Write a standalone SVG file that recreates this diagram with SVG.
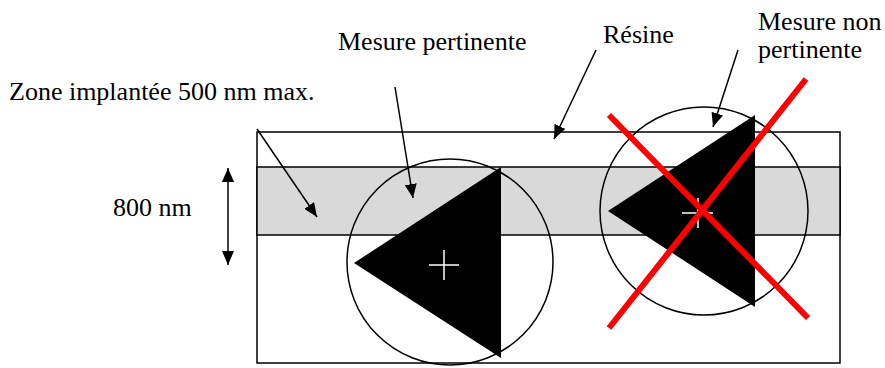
<svg xmlns="http://www.w3.org/2000/svg" width="885" height="368" viewBox="0 0 885 368">
<defs>
<style>
.t{font-family:"Liberation Serif","Times New Roman",serif;font-size:26px;fill:#000}
.c{fill:none;stroke:#000;stroke-width:1.5}
.a{stroke:#000;stroke-width:1.5;fill:none}
.w{stroke:#fff;stroke-width:1.5}
.r{stroke:#ff0000;stroke-width:6}
</style>
<marker id="ah2" viewBox="0 0 14 12" refX="14" refY="6" markerWidth="14" markerHeight="12" markerUnits="userSpaceOnUse" orient="auto-start-reverse">
<path d="M0,0 L14,6 L0,12 z" fill="#000"/>
</marker>
</defs>
<rect width="885" height="368" fill="#fff"/>
<g id="wafer">
<rect x="257" y="132" width="583" height="231" fill="#fff" stroke="#000" stroke-width="1.5"/>
<rect x="257" y="167" width="583" height="68" fill="#d9d9d9" stroke="#000" stroke-width="1.5"/>
</g>
<g id="mesure-pertinente">
<circle class="c" cx="450" cy="262" r="103"/>
<polygon points="354,263 501,167 501,358" fill="#000"/>
<line class="w" x1="429" y1="265" x2="459" y2="265"/>
<line class="w" x1="444" y1="250" x2="444" y2="280"/>
</g>
<g id="mesure-non-pertinente">
<circle class="c" cx="704" cy="211" r="104"/>
<polygon points="608,211 755,115 755,307" fill="#000"/>
<line class="w" x1="682" y1="213" x2="713" y2="213"/>
<line class="w" x1="698" y1="198" x2="698" y2="228"/>
<line class="r" x1="609" y1="115" x2="808" y2="318"/>
<line class="r" x1="806" y1="79" x2="609" y2="328"/>
</g>
<g id="labels">
<text class="t" x="9" y="100">Zone implantée 500 nm max.</text>
<text class="t" x="338" y="50">Mesure pertinente</text>
<text class="t" x="603" y="43">Résine</text>
<text class="t" x="758" y="30">Mesure non</text>
<text class="t" x="758" y="58">pertinente</text>
<text class="t" x="113" y="216">800 nm</text>
</g>
<g id="connectors">
<line class="a" x1="257" y1="129" x2="317" y2="217" marker-end="url(#ah2)"/>
<line class="a" x1="395" y1="87" x2="413" y2="198" marker-end="url(#ah2)"/>
<line class="a" x1="596" y1="50" x2="554" y2="139" marker-end="url(#ah2)"/>
<line class="a" x1="738" y1="50" x2="713" y2="127" marker-end="url(#ah2)"/>
<line class="a" x1="228" y1="168" x2="228" y2="265" marker-start="url(#ah2)" marker-end="url(#ah2)"/>
</g>
</svg>
